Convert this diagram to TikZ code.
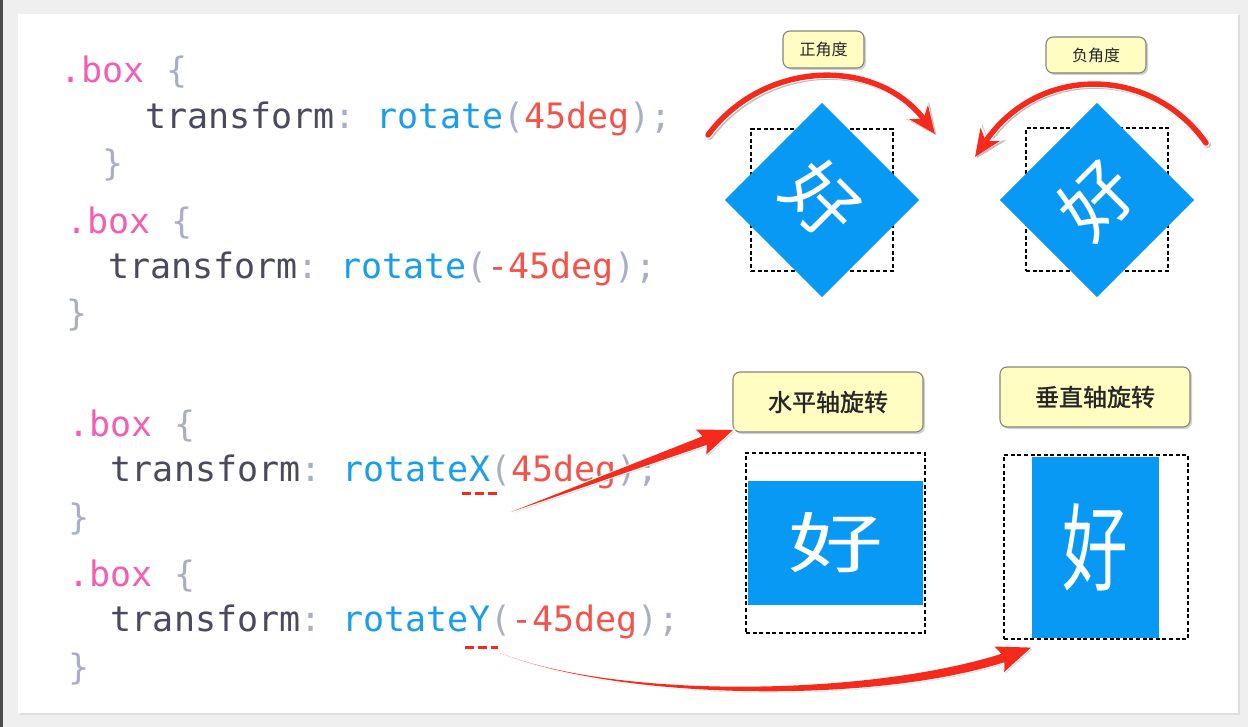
\documentclass[tikz,border=0pt]{standalone}
\usepackage{fontspec}
\newfontfamily\codefont{DejaVu Sans Mono}
\newfontfamily\cjkfont{Noto Sans CJK SC}
\newfontfamily\cjkheavy{Noto Sans CJK SC}[FakeBold=1.3]
\usetikzlibrary{arrows.meta,shadows}
\definecolor{cpink}{HTML}{F25FB0}
\definecolor{cbrace}{HTML}{A9AEC2}
\definecolor{cdark}{HTML}{4A4A5C}
\definecolor{cblue}{HTML}{1A9DEB}
\definecolor{cred}{HTML}{F2544C}
\definecolor{arrowred}{HTML}{F52A1C}
\definecolor{boxblue}{HTML}{0899F5}
\definecolor{tagfill}{HTML}{FFFDC2}
\definecolor{taggray}{HTML}{85857A}
\definecolor{bggray}{HTML}{EFEFEF}
\newcommand{\tokpk}[1]{\textcolor{cpink}{#1}}
\newcommand{\tokbr}[1]{\textcolor{cbrace}{#1}}
\newcommand{\tokdk}[1]{\textcolor{cdark}{#1}}
\newcommand{\tokbl}[1]{\textcolor{cblue}{#1}}
\newcommand{\tokrd}[1]{\textcolor{cred}{#1}}
\begin{document}
\begin{tikzpicture}[x=1pt,y=-1pt,
  code/.style={anchor=base west, inner sep=0pt, font=\codefont\fontsize{35}{35}\selectfont},
  tag/.style={draw=taggray, line width=1.1pt, fill=tagfill, rounded corners=7pt,
    drop shadow={shadow xshift=2pt, shadow yshift=-2pt, opacity=.35}, inner sep=0pt},
  smalltag/.style={tag, font=\cjkfont\fontsize{16}{16}\selectfont, text=black!85},
  bigtag/.style={tag, minimum width=190pt, minimum height=60pt, font=\cjkheavy\fontsize{24}{24}\selectfont, text=black!85},
  bluebox/.style={fill=boxblue, text=white, inner sep=0pt},
  dashbox/.style={draw=black, line width=2.8pt, dash pattern=on 4pt off 2.6pt, inner sep=0pt},
  arcshadow/.style={draw=black, opacity=.25, line width=7pt, line cap=round,
    -{Stealth[length=31pt,width=28pt,inset=9pt]}, transform canvas={shift={(1.5,1.5)}}},
  archalo/.style={draw=white, line width=8pt, line cap=round, -{Stealth[length=31pt,width=28pt,inset=9pt]}},
  arcred/.style={draw=arrowred, line width=5.5pt, line cap=round, -{Stealth[length=27pt,width=23pt,inset=8pt]}},
  taper/.style={fill=arrowred, line join=round,
    drop shadow={shadow xshift=1.5pt, shadow yshift=-1.5pt, opacity=.3},
    preaction={draw=white, line width=2.2pt}},
  marker/.style={draw=arrowred, line width=3pt, dash pattern=on 9pt off 4pt}]
\useasboundingbox (0,0) rectangle (1248,727);
% background and panel
\fill[bggray] (0,0) rectangle (1248,727);
\fill[black!70] (0,0) rectangle (3,727);
\fill[white, drop shadow={shadow xshift=1.5pt, shadow yshift=-1.5pt, opacity=.15}] (18,14) rectangle (1238,713);

% code
\node[code] (l1) at (60.5,83) {\tokpk{.box}\ \tokbr{\{}};
\node[code] (l2) at (144.8,129) {\tokdk{transform}\tokbr{:}\ \tokbl{rotate}\tokbr{(}\tokrd{45deg}\tokbr{);}};
\node[code] (l3) at (102.6,176) {\tokbr{\}}};
\node[code] (l4) at (66,234) {\tokpk{.box}\ \tokbr{\{}};
\node[code] (l5) at (108.1,279) {\tokdk{transform}\tokbr{:}\ \tokbl{rotate}\tokbr{(}\tokrd{-45deg}\tokbr{);}};
\node[code] (l6) at (66,326) {\tokbr{\}}};
\node[code] (l7) at (68.5,436) {\tokpk{.box}\ \tokbr{\{}};
\node[code] (l8) at (110.6,481) {\tokdk{transform}\tokbr{:}\ \tokbl{rotateX}\tokbr{(}\tokrd{45deg}\tokbr{);}};
\node[code] (l9) at (68.5,529) {\tokbr{\}}};
\node[code] (l10) at (68.5,586) {\tokpk{.box}\ \tokbr{\{}};
\node[code] (l11) at (110.6,631) {\tokdk{transform}\tokbr{:}\ \tokbl{rotateY}\tokbr{(}\tokrd{-45deg}\tokbr{);}};
\node[code] (l12) at (68.5,679) {\tokbr{\}}};

% red underline marks
\draw[marker] (462,493) -- (500,493);
\draw[marker] (465,647) -- (498,647);

% top diagrams
\node[dashbox, minimum width=142pt, minimum height=142pt] (q1) at (822,200) {};
\node[bluebox, minimum size=137.5pt, rotate=-45, font=\cjkfont\fontsize{72}{72}\selectfont] (d1) at (822,200) {好};
\node[dashbox, minimum width=142pt, minimum height=143pt] (q2) at (1097,199.5) {};
\node[bluebox, minimum size=137.5pt, rotate=45, font=\cjkfont\fontsize{72}{72}\selectfont] (d2) at (1097,200) {好};

\node[smalltag, minimum width=81pt, minimum height=37pt] (t1) at (823.5,49.5) {正角度};
\node[smalltag, minimum width=100pt, minimum height=36pt] (t2) at (1096,55) {负角度};

% top arcs
\coordinate (a1s) at (708,135);
\coordinate (a1e) at (935,134);
\coordinate (a2s) at (1206,143);
\coordinate (a2e) at (975,157);
\draw[arcshadow] (a1s) .. controls (764.5,59) and (877,57) .. (a1e);
\draw[archalo] (a1s) .. controls (764.5,59) and (877,57) .. (a1e);
\draw[arcred] (a1s) .. controls (764.5,59) and (877,57) .. (a1e);
\draw[arcshadow] (a2s) .. controls (1150,64) and (1037,65) .. (a2e);
\draw[archalo] (a2s) .. controls (1150,64) and (1037,65) .. (a2e);
\draw[arcred] (a2s) .. controls (1150,64) and (1037,65) .. (a2e);

% bottom diagrams
\node[bluebox, minimum width=175pt, minimum height=124pt, font=\cjkfont\fontsize{95}{95}\selectfont] (b3) at (835.5,543) {\scalebox{1}[0.69]{好}};
\node[dashbox, minimum width=179pt, minimum height=180pt] (q3) at (835.5,543) {};
\node[bluebox, minimum width=127pt, minimum height=181pt, font=\cjkfont\fontsize{95}{95}\selectfont] (b4) at (1095.5,547.5) {\scalebox{0.69}[1]{好}};
\node[dashbox, minimum width=184pt, minimum height=184pt] (q4) at (1096,547) {};

\node[bigtag] (t3) at (828,402) {水平轴旋转};
\node[bigtag] (t4) at (1095,397) {垂直轴旋转};

% tapered arrows
\coordinate (x3tail) at (511,512);
\coordinate (x3tip) at (733,430);
\fill[taper] (x3tail) -- (702.5,436.3) -- (696,429.5) -- (x3tip) -- (706.3,454.5) -- (706.9,444.8) -- cycle;
\coordinate (y4tail) at (500,653);
\coordinate (y4tip) at (1031,647.6);
\fill[taper] (y4tail) .. controls (620,700) and (870,695.5) .. (1001.5,653.8) -- (994.4,646.5) -- (y4tip)
  -- (1004.2,672) -- (1004.5,662.2) .. controls (870,704.5) and (620,700) .. (y4tail) -- cycle;
\end{tikzpicture}
\end{document}
